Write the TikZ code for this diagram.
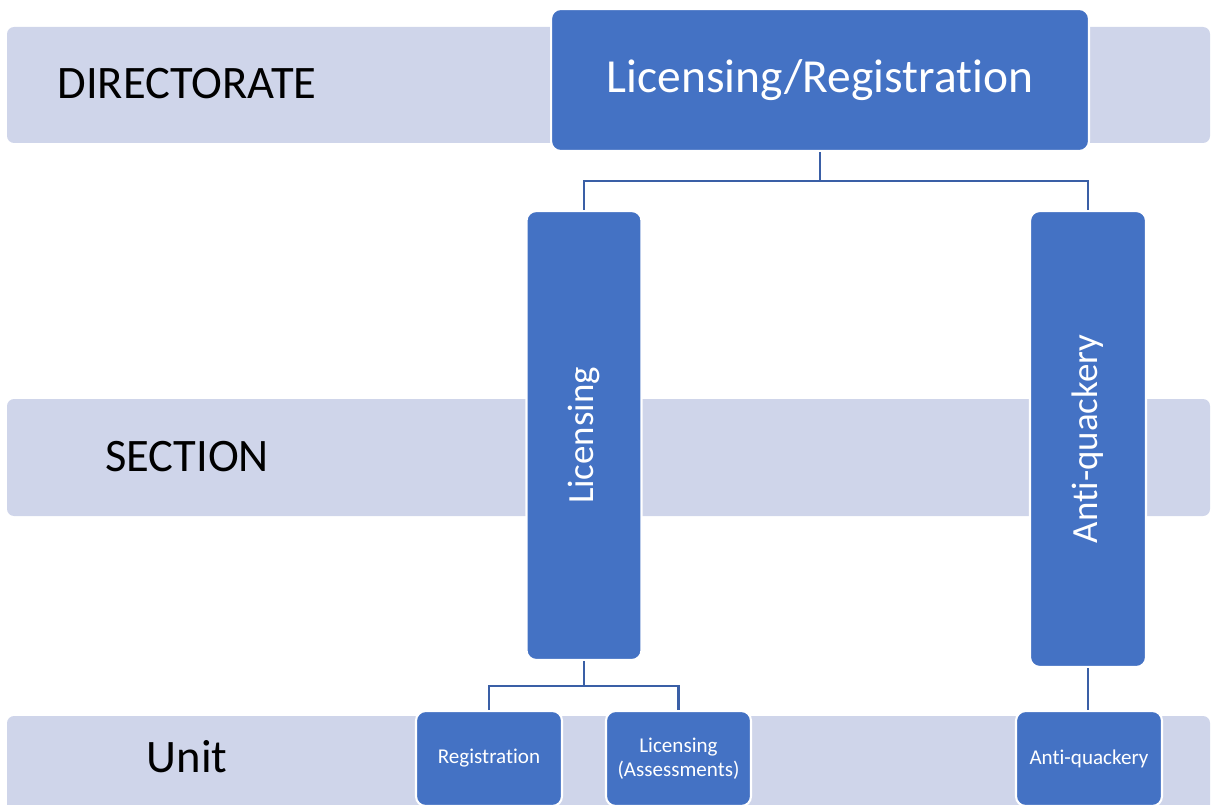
\documentclass[tikz,border=0pt]{standalone}
\usepackage{fontspec}
\setmainfont{Carlito}[Ligatures=NoCommon]
\usetikzlibrary{positioning}
\definecolor{bandfill}{HTML}{CFD5EA}
\definecolor{boxfill}{HTML}{4472C4}
\definecolor{linkblue}{HTML}{3A5FA6}

\begin{document}
\begin{tikzpicture}[x=0.02cm, y=-0.02cm,
        band/.style={fill=bandfill, rounded corners=4pt},
        level/.style={font=\fontsize{26.5}{30}\selectfont, text=black},
        bluebox/.style={draw=white, line width=1.2pt, fill=boxfill, rounded corners=5.5pt,
                        text=white, inner sep=0pt, align=center},
        sidetext/.style={rotate=90, text=white, font=\fontsize{21}{25}\selectfont},
        unittext/.style={font=\fontsize{12}{13.6}\selectfont},
        link/.style={draw=linkblue, line width=1.4pt}]
    \useasboundingbox (0,0) rectangle (1212,804);

    % level bands
    \fill[band] (7,27) rectangle (1210,143);
    \fill[band] (7,399) rectangle (1210,516);
    \fill[band] (7,716) rectangle (1210,830);

    \node[level] (directorate) at (187,84) {DIRECTORATE};
    \node[level] (section) at (187,457) {SECTION};
    \node[level] (unit) at (187,757) {Unit};

    % boxes
    \node[bluebox, minimum width=10.76cm, minimum height=2.84cm,
          font=\fontsize{27}{32}\selectfont] (dir) at (820,80) {Licensing/Registration};

    \node[bluebox, minimum width=2.3cm, minimum height=8.98cm] (lic) at (584,435.5) {};
    \node[sidetext] (lictext) at (lic.center) {Licensing};
    \node[bluebox, minimum width=2.32cm, minimum height=9.12cm] (anti) at (1088,439) {};
    \node[sidetext] (antitext) at (anti.center) {Anti-quackery};

    \node[bluebox, unittext, minimum width=2.92cm, minimum height=1.9cm] (reg) at (489,758.5) {Registration};
    \node[bluebox, unittext, minimum width=2.9cm, minimum height=1.9cm] (asm) at (678.5,758.5) {Licensing\\(Assessments)};
    \node[bluebox, unittext, minimum width=2.92cm, minimum height=1.9cm] (antiu) at (1089,758.5) {Anti-quackery};

    % connectors
    \draw[link] (dir.south) -- ++(0,29) -| (lic.north);
    \draw[link] (dir.south) -- ++(0,29) -| (anti.north);
    \draw[link] (lic.south) -- ++(0,25) -| (reg.north);
    \draw[link] (lic.south) -- ++(0,25) -| (asm.north);
    \draw[link] (anti.south) -- (anti.south |- antiu.north);
\end{tikzpicture}
\end{document}
